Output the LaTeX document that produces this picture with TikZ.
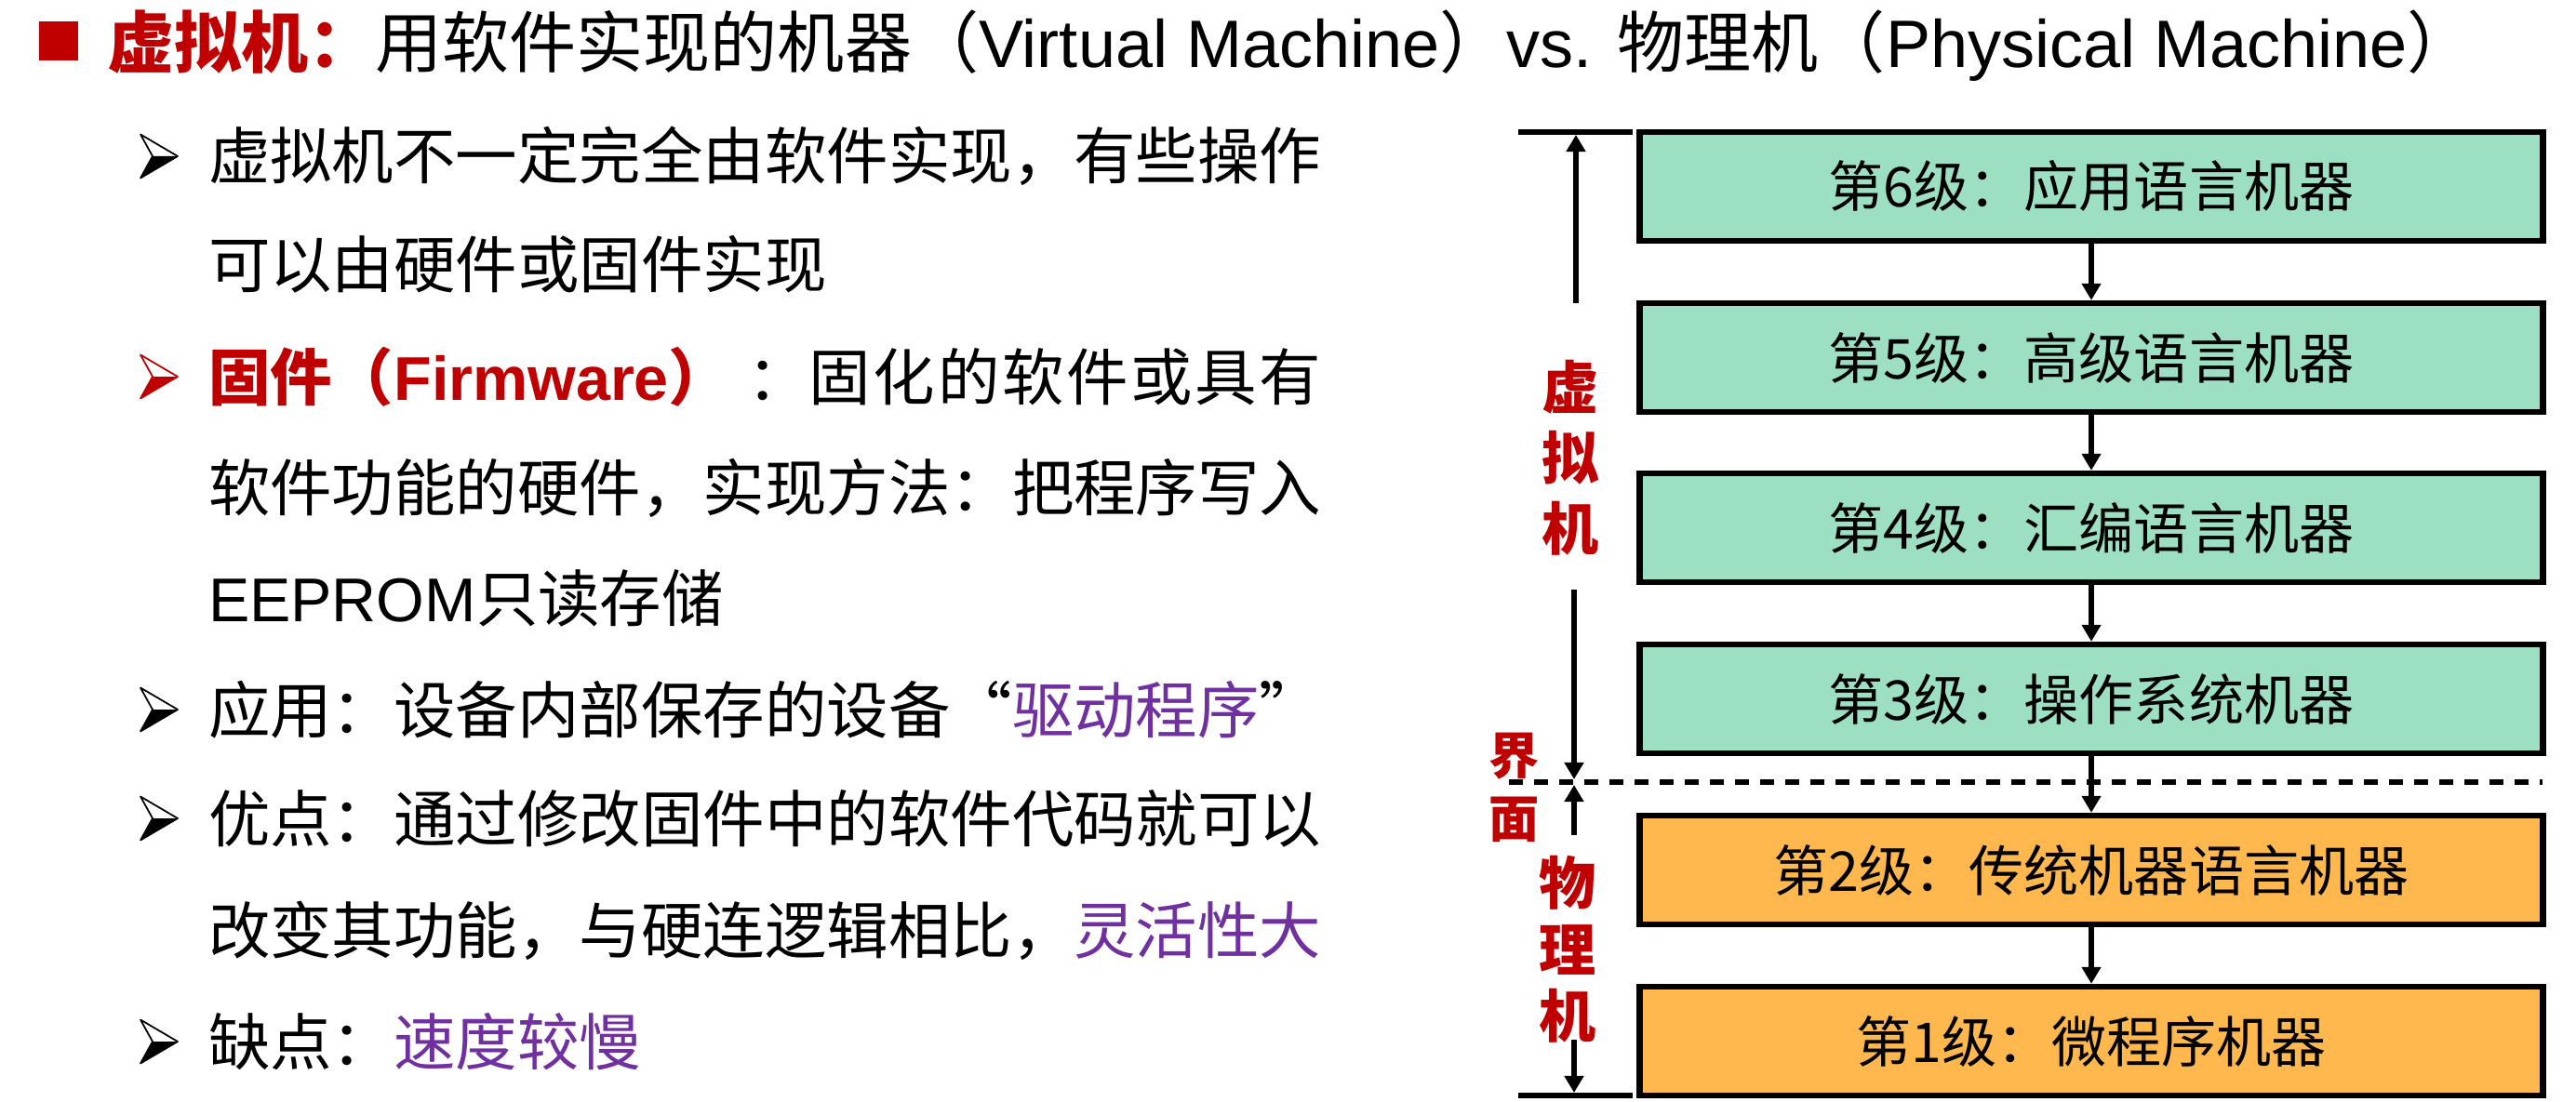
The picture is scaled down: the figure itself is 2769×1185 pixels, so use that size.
\documentclass[tikz,border=0pt]{standalone}
\usepackage{fontspec}
\setmainfont{Noto Sans CJK SC}
\newfontfamily\latfont{Liberation Sans}
\usetikzlibrary{arrows.meta}

\definecolor{headred}{RGB}{192,0,0}
\definecolor{hilite}{RGB}{112,48,160}
\definecolor{virtgreen}{RGB}{157,223,194}
\definecolor{physorange}{RGB}{255,184,77}

\newcommand\titlesize{\fontsize{20.5pt}{24pt}\selectfont}
\newcommand\bodysize{\fontsize{18.9pt}{22pt}\selectfont}
\newcommand\levelsize{\fontsize{16.8pt}{20pt}\selectfont}

% arrowhead bullet: outlined upper half, filled lower half
\tikzset{pics/pointer/.style={code={
  \fill[#1] (-7,0) -- (20,0) -- (-20,23.5) -- cycle;
  \draw[#1, line width=0.5pt, line join=round]
    (-20,-23.5) -- (20,0) -- (-20,23.5) -- (-7,0) -- cycle;
}}}

\begin{document}
\begin{tikzpicture}[x=0.01cm, y=-0.01cm,
  every node/.style={inner sep=0pt, outer sep=0pt},
  textline/.style={anchor=base west, font=\bodysize},
  levelbox/.style={draw=black, line width=1.85pt, minimum width=9.7cm,
    minimum height=1.17cm, font=\levelsize},
  arr/.style={line width=1.7pt, -{Triangle[length=0.18cm,width=0.2cm]}},
  bar/.style={line width=1.8pt},
  sidelabel/.style={align=center, text=headred},
]
\useasboundingbox (0,0) rectangle (2769,1185);

% ---------- heading ----------
\fill[headred] (42,23) rectangle (84,65);
\node[anchor=base west, font=\titlesize] (title) at (115,73)
  {{\color{headred}\bfseries 虚拟机：}用软件实现的机器（{\latfont Virtual Machine}）{\latfont vs. }物理机（{\latfont Physical Machine}）};

% ---------- bullet list ----------
\pic at (171,168) {pointer=black};
\node[textline] (l1) at (224,193) {虚拟机不一定完全由软件实现，有些操作};
\node[textline] (l2) at (224,310) {可以由硬件或固件实现};

\pic at (171,405) {pointer=headred};
\node[textline] (l3) at (224,430)
  {{\color{headred}\bfseries 固件（{\latfont Firmware}）}\hspace{0.18cm}：{\addfontfeature{LetterSpace=4}固化的软件或具有}};
\node[textline] (l4) at (224,549) {软件功能的硬件，实现方法：把程序写入};
\node[textline] (l5) at (224,668) {{\latfont EEPROM}只读存储};

\pic at (171,763) {pointer=black};
\node[textline] (l6) at (224,788) {应用：设备内部保存的设备“{\color{hilite}驱动程序}”};

\pic at (171,880) {pointer=black};
\node[textline] (l7) at (224,905) {优点：通过修改固件中的软件代码就可以};
\node[textline] (l8) at (224,1025) {改变其功能，与硬连逻辑相比，{\color{hilite}灵活性大}};

\pic at (171,1120) {pointer=black};
\node[textline] (l9) at (224,1145) {缺点：{\color{hilite}速度较慢}};

% ---------- machine levels ----------
\node[levelbox, fill=virtgreen]  (b6) at (2248,200.5)  {第6级：应用语言机器};
\node[levelbox, fill=virtgreen]  (b5) at (2248,384.5)  {第5级：高级语言机器};
\node[levelbox, fill=virtgreen]  (b4) at (2248,567.5)  {第4级：汇编语言机器};
\node[levelbox, fill=virtgreen]  (b3) at (2248,751.5)  {第3级：操作系统机器};
\node[levelbox, fill=physorange] (b2) at (2248,935.5)  {第2级：传统机器语言机器};
\node[levelbox, fill=physorange] (b1) at (2248,1119.5) {第1级：微程序机器};

\draw[arr, shorten >=0.9pt] (b6.south) -- (b5.north);
\draw[arr, shorten >=0.9pt] (b5.south) -- (b4.north);
\draw[arr, shorten >=0.9pt] (b4.south) -- (b3.north);
\draw[arr, shorten >=0.9pt] (b3.south) -- (b2.north);
\draw[arr, shorten >=0.9pt] (b2.south) -- (b1.north);

% interface line between virtual and physical machines
\coordinate (dashL) at (1622,841);
\coordinate (dashR) at (2733,841);
\draw[line width=1.85pt, dash pattern=on 0.15cm off 0.12cm] (dashL) -- (dashR);

% ---------- range markers on the left ----------
\coordinate (topL) at (1632,142);
\coordinate (topR) at (1755,142);
\coordinate (botL) at (1632,1178);
\coordinate (botR) at (1755,1178);
\draw[bar] (topL) -- (topR);
\draw[bar] (botL) -- (botR);

\node[sidelabel, font={\fontsize{17.4pt}{21.6pt}\selectfont\bfseries}] (virt) at (1688,492) {虚\\拟\\机};
\node[sidelabel, font={\fontsize{15.4pt}{19.3pt}\selectfont\bfseries}] (iface) at (1628,847) {界\\面};
\node[sidelabel, font={\fontsize{17.4pt}{20.3pt}\selectfont\bfseries}] (phys) at (1685,1021) {物\\理\\机};

\coordinate (vUpFrom) at (1694,326);
\coordinate (vUpTo)   at (1694,145);
\coordinate (vDnFrom) at (1692,634);
\coordinate (vDnTo)   at (1692,838);
\coordinate (pUpFrom) at (1692,898);
\coordinate (pUpTo)   at (1692,844);
\coordinate (pDnFrom) at (1692,1118);
\coordinate (pDnTo)   at (1692,1175);

\draw[arr] (vUpFrom) -- (vUpTo);
\draw[arr] (vDnFrom) -- (vDnTo);
\draw[arr] (pUpFrom) -- (pUpTo);
\draw[arr] (pDnFrom) -- (pDnTo);
\end{tikzpicture}
\end{document}
